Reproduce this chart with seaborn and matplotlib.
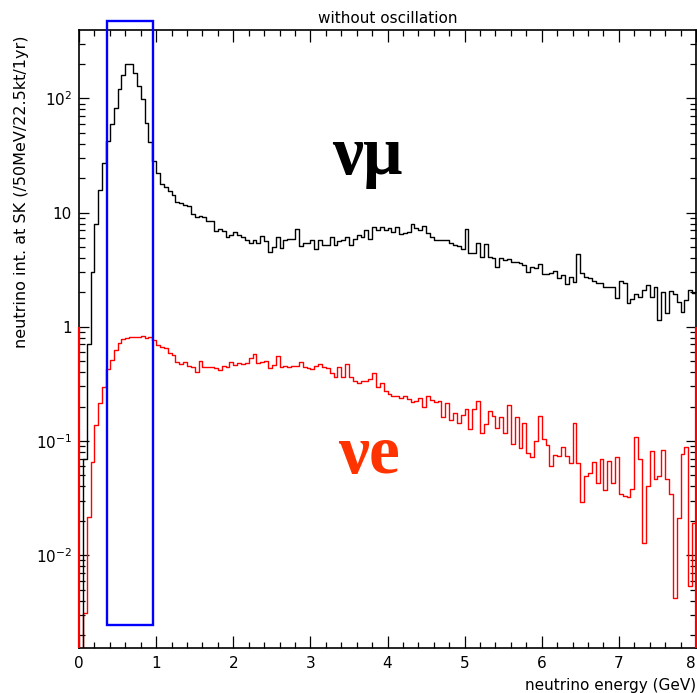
import numpy as np
import pandas as pd
import matplotlib
matplotlib.use("Agg")
import matplotlib.pyplot as plt
from matplotlib.patches import Rectangle
from matplotlib.ticker import (FixedLocator, FixedFormatter, MultipleLocator,
                               LogLocator, NullFormatter)
import seaborn as sns

# Energy binning: 160 bins of 50 MeV between 0 and 8 GeV
E_MIN, E_MAX = 0.0, 8.0
BIN_WIDTH = 0.05

# nu_mu interaction rate per 50 MeV bin (/22.5kt/1yr)
numu_rate = [
    0.0, 0.07, 0.71, 3.0, 7.9, 15.7, 27.3, 42.3, 59.2, 82.8,
    120, 160, 199, 199, 166, 129, 98, 60.4, 41.2, 28.3,
    22.3, 17.9, 16.8, 15.5, 14.2, 12.4, 12.0, 11.6, 11.4, 9.8,
    9.2, 9.3, 9.1, 8.5, 8.5, 6.9, 7.1, 6.9, 6.1, 6.4,
    6.8, 6.4, 6.1, 5.8, 5.4, 5.7, 5.4, 6.2, 5.6, 4.5,
    5.0, 6.1, 4.9, 5.7, 5.9, 5.9, 7.1, 5.1, 5.4, 5.4,
    5.7, 4.8, 5.7, 5.2, 5.2, 6.1, 5.2, 5.6, 5.8, 6.1,
    5.2, 5.9, 6.4, 6.1, 7.0, 5.9, 7.5, 7.0, 7.4, 7.0,
    7.3, 6.8, 7.4, 6.5, 6.6, 6.8, 8.0, 7.3, 7.0, 7.6,
    6.6, 6.1, 5.7, 5.7, 5.8, 5.8, 5.4, 5.2, 5.1, 4.76,
    7.2, 4.4, 4.4, 5.44, 4.05, 5.3, 4.1, 3.97, 3.31, 4.02,
    3.84, 3.89, 3.71, 3.69, 3.59, 3.47, 3.03, 3.31, 3.25, 3.54,
    2.89, 2.89, 2.97, 3.09, 2.65, 2.84, 2.37, 2.74, 2.46, 4.33,
    2.97, 2.74, 2.65, 2.53, 2.43, 2.43, 2.21, 2.21, 2.21, 1.77,
    2.53, 2.40, 1.62, 1.74, 1.93, 1.83, 2.10, 2.32, 1.83, 2.21,
    1.14, 2.03, 1.33, 2.07, 1.93, 1.66, 1.35, 1.71, 2.10, 1.99,
]

# nu_e interaction rate per 50 MeV bin (/22.5kt/1yr)
nue_rate = [
    0.0, 0.0031, 0.0217, 0.066, 0.138, 0.213, 0.294, 0.424, 0.512, 0.626,
    0.716, 0.776, 0.791, 0.808, 0.818, 0.808, 0.83, 0.791, 0.81, 0.76,
    0.69, 0.67, 0.65, 0.59, 0.565, 0.494, 0.471, 0.487, 0.453, 0.447,
    0.404, 0.504, 0.441, 0.441, 0.447, 0.431, 0.417, 0.453, 0.447, 0.494,
    0.462, 0.478, 0.472, 0.478, 0.528, 0.577, 0.484, 0.494, 0.504, 0.431,
    0.462, 0.554, 0.441, 0.453, 0.447, 0.453, 0.453, 0.494, 0.441, 0.431,
    0.424, 0.453, 0.472, 0.441, 0.431, 0.395, 0.365, 0.441, 0.365, 0.472,
    0.36, 0.336, 0.323, 0.336, 0.336, 0.346, 0.39, 0.294, 0.319, 0.275,
    0.257, 0.247, 0.25, 0.236, 0.247, 0.231, 0.22, 0.225, 0.24, 0.2,
    0.247, 0.228, 0.22, 0.225, 0.163, 0.216, 0.152, 0.177, 0.145, 0.169,
    0.189, 0.126, 0.190, 0.225, 0.117, 0.140, 0.184, 0.165, 0.129, 0.161,
    0.118, 0.206, 0.094, 0.161, 0.086, 0.145, 0.078, 0.072, 0.099, 0.165,
    0.103, 0.092, 0.060, 0.075, 0.074, 0.089, 0.074, 0.064, 0.143, 0.064,
    0.029, 0.049, 0.052, 0.066, 0.043, 0.070, 0.037, 0.067, 0.043, 0.073,
    0.034, 0.033, 0.032, 0.038, 0.108, 0.069, 0.0127, 0.040, 0.081, 0.046,
    0.049, 0.083, 0.046, 0.034, 0.0042, 0.021, 0.077, 0.089, 0.0054, 0.019,
]

flavors = ["numu", "nue"]
flavor_colors = {"numu": "#000000", "nue": "#FF0000"}
flavor_labels = {"numu": "\u03bd\u03bc", "nue": "\u03bde"}
label_colors = {"numu": "#000000", "nue": "#FF3300"}

x_ticks = [0, 1, 2, 3, 4, 5, 6, 7, 8]
x_tick_labels = ["0", "1", "2", "3", "4", "5", "6", "7", "8"]
y_ticks = [1e-2, 1e-1, 1, 10, 100]
y_tick_labels = [r"$10^{-2}$", r"$10^{-1}$", "1", "10", r"$10^{2}$"]
Y_LIM = (1.54e-3, 396)

# Highlighted energy window (GeV) and its vertical extent
window_energy = (0.36, 0.955)
window_rate = (0.00245, 475)

# ---- data table ----
n_bins = len(numu_rate)
centers = E_MIN + BIN_WIDTH * (np.arange(n_bins) + 0.5)
df = pd.DataFrame({
    "energy": np.concatenate([centers, centers]),
    "rate": np.concatenate([numu_rate, nue_rate]),
    "flavor": ["numu"] * n_bins + ["nue"] * n_bins,
})

sns.set_style("ticks")
plt.rcParams["font.family"] = ["DejaVu Sans"]
plt.rcParams["mathtext.fontset"] = "dejavusans"
for key in ("text.color", "axes.labelcolor", "xtick.color", "ytick.color",
            "xtick.labelcolor", "ytick.labelcolor"):
    plt.rcParams[key] = "black"

W, H = 697, 693
fig = plt.figure(figsize=(W / 100, H / 100), dpi=100)
ax = fig.add_axes([79 / W, 45 / H, 617 / W, 618 / H])

sns.histplot(data=df, x="energy", weights="rate", hue="flavor",
             hue_order=flavors, binwidth=BIN_WIDTH, binrange=(E_MIN, E_MAX),
             element="step", fill=False, palette=flavor_colors,
             linewidth=1.0, legend=False, ax=ax)

ax.set_yscale("log")
ax.set_xlim(E_MIN, E_MAX)
ax.set_ylim(*Y_LIM)

# red frame segments below unity on both side axes
ax.vlines([E_MIN, E_MAX], Y_LIM[0], 1.0, colors="#FF0000", linewidth=1.6,
          clip_on=False, zorder=5)

# highlighted window
ax.add_patch(Rectangle((window_energy[0], window_rate[0]),
                       window_energy[1] - window_energy[0],
                       window_rate[1] - window_rate[0],
                       fill=False, edgecolor="#0000FF", linewidth=1.7,
                       clip_on=False, zorder=6))

# ticks
ax.xaxis.set_major_locator(FixedLocator(x_ticks))
ax.xaxis.set_major_formatter(FixedFormatter(x_tick_labels))
ax.xaxis.set_minor_locator(MultipleLocator(0.2))
ax.yaxis.set_major_locator(FixedLocator(y_ticks))
ax.yaxis.set_major_formatter(FixedFormatter(y_tick_labels))
ax.yaxis.set_minor_locator(LogLocator(base=10, subs=np.arange(2, 10)))
ax.yaxis.set_minor_formatter(NullFormatter())
ax.tick_params(which="both", direction="in", top=True, right=True,
               color="black", width=0.9)
ax.tick_params(axis="x", which="major", length=8.5, labelsize=11, pad=6,
               labelcolor="black")
ax.tick_params(axis="x", which="minor", length=4.3)
ax.tick_params(axis="y", which="major", length=7.5, labelsize=11, pad=5,
               labelcolor="black")
ax.tick_params(axis="y", which="minor", length=4.0)
for s in ax.spines.values():
    s.set_linewidth(1.2)
    s.set_color("black")

# labels
ax.set_title("without oscillation", fontsize=11, pad=5, color="black")
ax.set_xlabel("neutrino energy (GeV)", fontsize=11, color="black")
ax.xaxis.set_label_coords(1.0, -0.048)
ax.xaxis.label.set_horizontalalignment("right")
ax.set_ylabel("neutrino int. at SK (/50MeV/22.5kt/1yr)", fontsize=11.5,
              color="black")
ax.yaxis.set_label_coords(-0.081, 0.739)

# flavour labels
ax.text(0.468, 0.795, flavor_labels["numu"], transform=ax.transAxes,
        ha="center", va="center", fontsize=50, fontweight="bold",
        family="Liberation Serif", color=label_colors["numu"])
ax.text(0.47, 0.31, flavor_labels["nue"], transform=ax.transAxes,
        ha="center", va="center", fontsize=50, fontweight="bold",
        family="Liberation Serif", color=label_colors["nue"])

# keep the last energy label inside the canvas
fig.canvas.draw()
ax.get_xticklabels()[-1].set_horizontalalignment("right")

fig.savefig("out.png", dpi=100)
